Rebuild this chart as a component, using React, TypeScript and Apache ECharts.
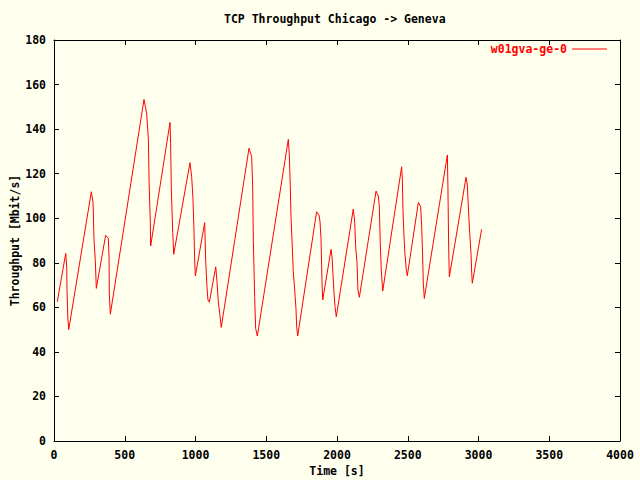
import React, { useEffect, useRef } from "react";
import * as echarts from "echarts";

const titleText = "TCP Throughput Chicago -> Geneva";
const seriesName = "w01gva-ge-0";
const xAxisName = "Time [s]";
const yAxisName = "Throughput [Mbit/s]";

const timeSec: number[] = [
  23, 83, 90, 92, 97, 104, 264, 276, 283, 292, 299, 365, 384, 389, 391, 398,
  636, 655, 667, 672, 681, 683, 820, 824, 829, 839, 846, 961, 973, 982, 989,
  994, 999, 1065, 1072, 1081, 1088, 1098, 1143, 1152, 1161, 1171, 1182, 1378,
  1397, 1404, 1409, 1418, 1425, 1437, 1656, 1663, 1670, 1675, 1682, 1691,
  1701, 1710, 1715, 1722, 1856, 1873, 1880, 1887, 1894, 1899, 1958, 1965,
  1972, 1979, 1986, 1995, 2115, 2125, 2132, 2141, 2148, 2158, 2276, 2292,
  2299, 2306, 2313, 2323, 2457, 2462, 2466, 2473, 2480, 2490, 2497, 2575,
  2591, 2598, 2605, 2610, 2617, 2780, 2784, 2789, 2794, 2912, 2921, 2931,
  2938, 2947, 2952, 2956, 3022,
];

const throughput: number[] = [
  62.5, 84.2, 78, 68, 56, 50, 111.9, 107, 90, 81, 68.5, 92.3, 91, 82.7, 66.3,
  56.9, 153.3, 147, 135.4, 116.4, 97, 87.5, 143, 133.6, 113.4, 93.5, 83.8,
  124.9, 118.6, 108.9, 95.5, 81.2, 74.1, 98, 80.9, 69.3, 63.3, 62.3, 78.2,
  71.5, 62.4, 57.3, 51, 131.4, 127.6, 114.1, 89.5, 64.8, 50.6, 47.1, 135.4,
  128.4, 114.1, 100.7, 90.2, 76, 67.8, 59.6, 51.3, 47.1, 102.9, 101.4, 98.4,
  91, 71.5, 63.3, 86, 82.7, 74.5, 66.3, 60.3, 55.8, 104.1, 98.4, 87.2, 80.5,
  67.8, 64.5, 112.2, 110, 105.2, 88, 76.7, 67.3, 123.1, 117.1, 104.4, 92.5,
  84.2, 76.7, 74.2, 107.1, 105.2, 97, 83.5, 70.8, 64, 128.4, 114.1, 87.2,
  73.7, 118.4, 114.9, 101.4, 93.2, 84.2, 75.5, 70.8, 95,
];

const FONT = "DejaVu Sans Mono";
const FS = 11.5;

export default function App() {
  const ref = useRef<HTMLDivElement>(null);
  useEffect(() => {
    if (!ref.current) return;
    const chart = echarts.init(ref.current, undefined, { renderer: "svg" });
    const textStyle = { fontFamily: FONT, fontWeight: "bold" as const, fontSize: FS, color: "#000" };
    const tick = { show: true, inside: true, length: 5, lineStyle: { color: "#000", width: 1 } };
    const line = { show: true, onZero: false, lineStyle: { color: "#000", width: 1 } };
    const data = timeSec.map((t, i) => [t, throughput[i]]);
    const plain = (v: number) => String(v);
    chart.setOption({
      animation: false,
      backgroundColor: "#ffffee",
      title: {
        text: titleText,
        left: 224,
        top: 13,
        padding: 0,
        textStyle: { ...textStyle },
      },
      legend: {
        data: [seriesName],
        right: 33,
        top: 43,
        padding: 0,
        align: "right",
        icon: "rect",
        itemWidth: 35,
        itemHeight: 1,
        textStyle: { ...textStyle, color: "#ff0000" },
      },
      grid: {
        left: 54,
        right: 20,
        top: 40,
        bottom: 39,
        containLabel: false,
        outerBoundsMode: "none",
      },
      xAxis: [
        {
          type: "value",
          min: 0,
          max: 4000,
          interval: 500,
          position: "bottom",
          name: xAxisName,
          nameLocation: "middle",
          nameGap: 24,
          nameMoveOverlap: false,
          nameTextStyle: { ...textStyle },
          axisLine: line,
          axisTick: tick,
          splitLine: { show: false },
          axisLabel: { ...textStyle, margin: 8, formatter: plain },
        },
        {
          type: "value",
          min: 0,
          max: 4000,
          interval: 500,
          position: "top",
          axisLine: line,
          axisTick: tick,
          splitLine: { show: false },
          axisLabel: { show: false },
        },
      ],
      yAxis: [
        {
          type: "value",
          min: 0,
          max: 180,
          interval: 20,
          position: "left",
          name: yAxisName,
          nameLocation: "middle",
          nameGap: 33,
          nameMoveOverlap: false,
          nameTextStyle: { ...textStyle },
          axisLine: line,
          axisTick: tick,
          splitLine: { show: false },
          axisLabel: { ...textStyle, margin: 8, formatter: plain },
        },
        {
          type: "value",
          min: 0,
          max: 180,
          interval: 20,
          position: "right",
          axisLine: line,
          axisTick: tick,
          splitLine: { show: false },
          axisLabel: { show: false },
        },
      ],
      series: [
        {
          name: seriesName,
          type: "line",
          xAxisIndex: 0,
          yAxisIndex: 0,
          data,
          showSymbol: false,
          symbol: "none",
          lineStyle: { color: "#ff0000", width: 1 },
          itemStyle: { color: "#ff0000" },
        },
      ],
    });
    return () => chart.dispose();
  }, []);
  return (
    <div
      ref={ref}
      style={{ position: "fixed", left: 0, top: 0, width: 640, height: 480 }}
    />
  );
}
